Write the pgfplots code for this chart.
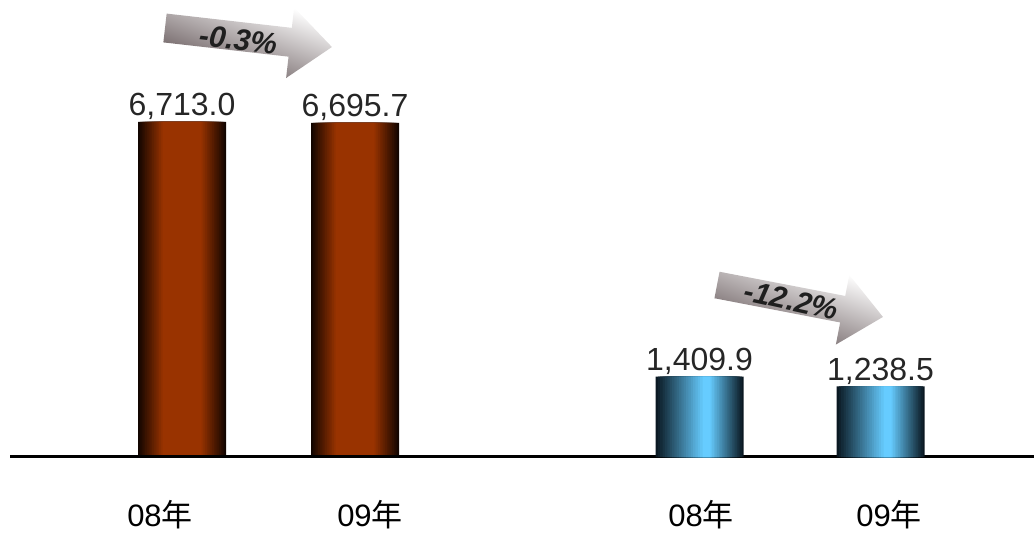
\documentclass[border=0pt]{standalone}
\usepackage{pgfplots}
\pgfplotsset{compat=1.18}
\usepackage{fontspec}
\setmainfont{Liberation Sans}
\newfontfamily\cjk{Noto Sans CJK SC}
\definecolor{brownmid}{RGB}{153,51,0}
\definecolor{brownedge}{RGB}{18,5,0}
\definecolor{bluemid}{RGB}{102,204,255}
\definecolor{blueedge}{RGB}{10,24,34}
\definecolor{arrowdark}{RGB}{92,78,80}
\definecolor{labelgray}{RGB}{38,38,38}
\pgfplotstableread{
x y
182 6713.0
355 6695.7
}\brownbars
\pgfplotstableread{
x y
699.5 1409.9
880.5 1238.5
}\bluebars
\begin{document}
\begin{tikzpicture}
\useasboundingbox (0,0) rectangle (1034pt,533pt);
\begin{axis}[
  at={(0,0)}, anchor=south west,
  width=1034pt, height=533pt, scale only axis,
  xmin=0, xmax=1034, ymin=-1523, ymax=9158,
  hide y axis,
  axis x line=middle,
  axis line style={draw=none},
  xtick={160,370,701,889},
  xticklabels={08{\cjk 年},09{\cjk 年},08{\cjk 年},09{\cjk 年}},
  major tick length=0pt,
  x tick label style={font=\fontsize{31}{31}\selectfont, anchor=base, yshift=-70pt},
  /pgf/number format/assume math mode=true,
  clip=false,
]
\addplot[ybar, bar width=88pt, bar shift=0pt, draw=none, fill=brownedge,
  nodes near coords={\pgfmathprintnumber[fixed,fixed zerofill,precision=1,1000 sep={,}]{\pgfplotspointmeta}},
  every node near coord/.append style={font=\fontsize{32}{32}\selectfont, text=labelgray, anchor=south, inner sep=2pt},
] table[x=x,y=y] {\brownbars};
\pgfplotsinvokeforeach{1,...,14}{
  \addplot[ybar, bar width={88pt-#1*3.5pt}, bar shift=0pt, draw=none, fill=brownmid!\the\numexpr #1*7+2\relax!brownedge]
    table[x=x,y=y] {\brownbars};
}
\draw[line width=3pt, black] (axis cs:10,0) -- (axis cs:1034,0);
\end{axis}
\begin{axis}[
  at={(0,0)}, anchor=south west,
  width=1034pt, height=533pt, scale only axis,
  xmin=0, xmax=1034, ymin=-1333, ymax=8016,
  hide axis,
  /pgf/number format/assume math mode=true,
  clip=false,
]
\addplot[ybar, bar width=88pt, bar shift=0pt, draw=none, fill=blueedge,
  nodes near coords={\pgfmathprintnumber[fixed,fixed zerofill,precision=1,1000 sep={,}]{\pgfplotspointmeta}},
  every node near coord/.append style={font=\fontsize{32}{32}\selectfont, text=labelgray, anchor=south, inner sep=2pt},
] table[x=x,y=y] {\bluebars};
\pgfplotsinvokeforeach{1,...,20}{
  \addplot[ybar, bar width={88pt-#1*4pt}, bar shift={#1*0.35pt}, draw=none, fill=bluemid!\the\numexpr #1*5\relax!blueedge]
    table[x=x,y=y] {\bluebars};
}
\end{axis}
% arrow 1
\begin{scope}[shift={(165pt,505pt)}, rotate=-6.5]
\shade[top color=white, bottom color=arrowdark, shading angle=-20]
  (0,-14.5pt) -- (126pt,-14.5pt) -- (126pt,-36pt) -- (168pt,0pt) -- (126pt,35pt) -- (126pt,14.5pt) -- (0,14.5pt) -- cycle;
\node[transform shape, font=\bfseries\itshape\fontsize{30}{30}\selectfont, text=black!88] at (74pt,-3pt) {-0.3\%};
\end{scope}
% arrow 2
\begin{scope}[shift={(717pt,248pt)}, rotate=-10.9]
\shade[top color=white, bottom color=arrowdark, shading angle=-20]
  (0,-13.5pt) -- (128pt,-13.5pt) -- (128pt,-36pt) -- (169pt,0pt) -- (128pt,35pt) -- (128pt,13.5pt) -- (0,13.5pt) -- cycle;
\node[transform shape, rotate=-1.5, font=\bfseries\itshape\fontsize{30}{30}\selectfont, text=black!88] at (76pt,-1pt) {-12.2\%};
\end{scope}
\end{tikzpicture}
\end{document}
